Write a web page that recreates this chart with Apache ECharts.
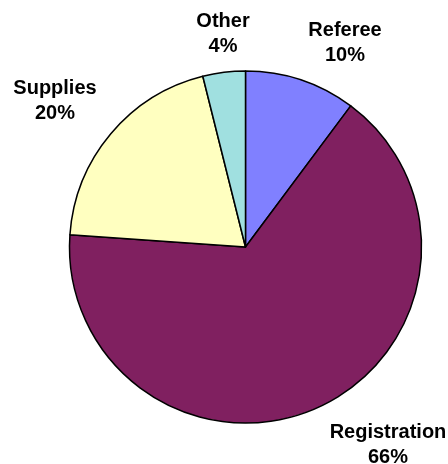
<!DOCTYPE html>
<html>
<head>
<meta charset="utf-8">
<script src="https://cdn.jsdelivr.net/npm/echarts@6/dist/echarts.min.js"></script>
<style>
  html, body { margin: 0; padding: 0; background: #ffffff; }
  #chart { width: 448px; height: 464px; }
</style>
</head>
<body>
<div id="chart"></div>
<script>
const categories = ['Referee', 'Registration', 'Supplies', 'Other'];
const values = [10.2, 65.9, 20.0, 3.9];
const colors = ['#8080FF', '#802060', '#FFFFC0', '#A0E0E0'];

// label block centres, relative to the pie centre (pixels)
const labelOffsets = [[99.5, -204], [142.5, 198], [-190.5, -146.2], [-22.5, -212.8]];

const cx = 245.5, cy = 247, R = 176;

const chart = echarts.init(document.getElementById('chart'), null, { renderer: 'canvas' });
chart.setOption({
  animation: false,
  backgroundColor: '#ffffff',
  series: [{
    type: 'pie',
    center: [cx, cy],
    radius: R,
    startAngle: 90,
    clockwise: true,
    percentPrecision: 0,
    avoidLabelOverlap: false,
    data: categories.map((c, i) => ({ name: c, value: values[i], itemStyle: { color: colors[i] } })),
    itemStyle: { borderColor: '#000000', borderWidth: 1.5 },
    emphasis: { disabled: true },
    label: {
      show: true,
      position: 'outside',
      formatter: '{b}\n{d}%',
      fontFamily: 'Liberation Sans, Arial, sans-serif',
      fontWeight: 'bold',
      fontSize: 20,
      lineHeight: 25,
      color: '#000000',
      align: 'center'
    },
    labelLine: { show: false },
    labelLayout: function (p) {
      const o = labelOffsets[p.dataIndex];
      return { x: cx + o[0], y: cy + o[1], align: 'center', verticalAlign: 'middle' };
    }
  }]
});
</script>
</body>
</html>
